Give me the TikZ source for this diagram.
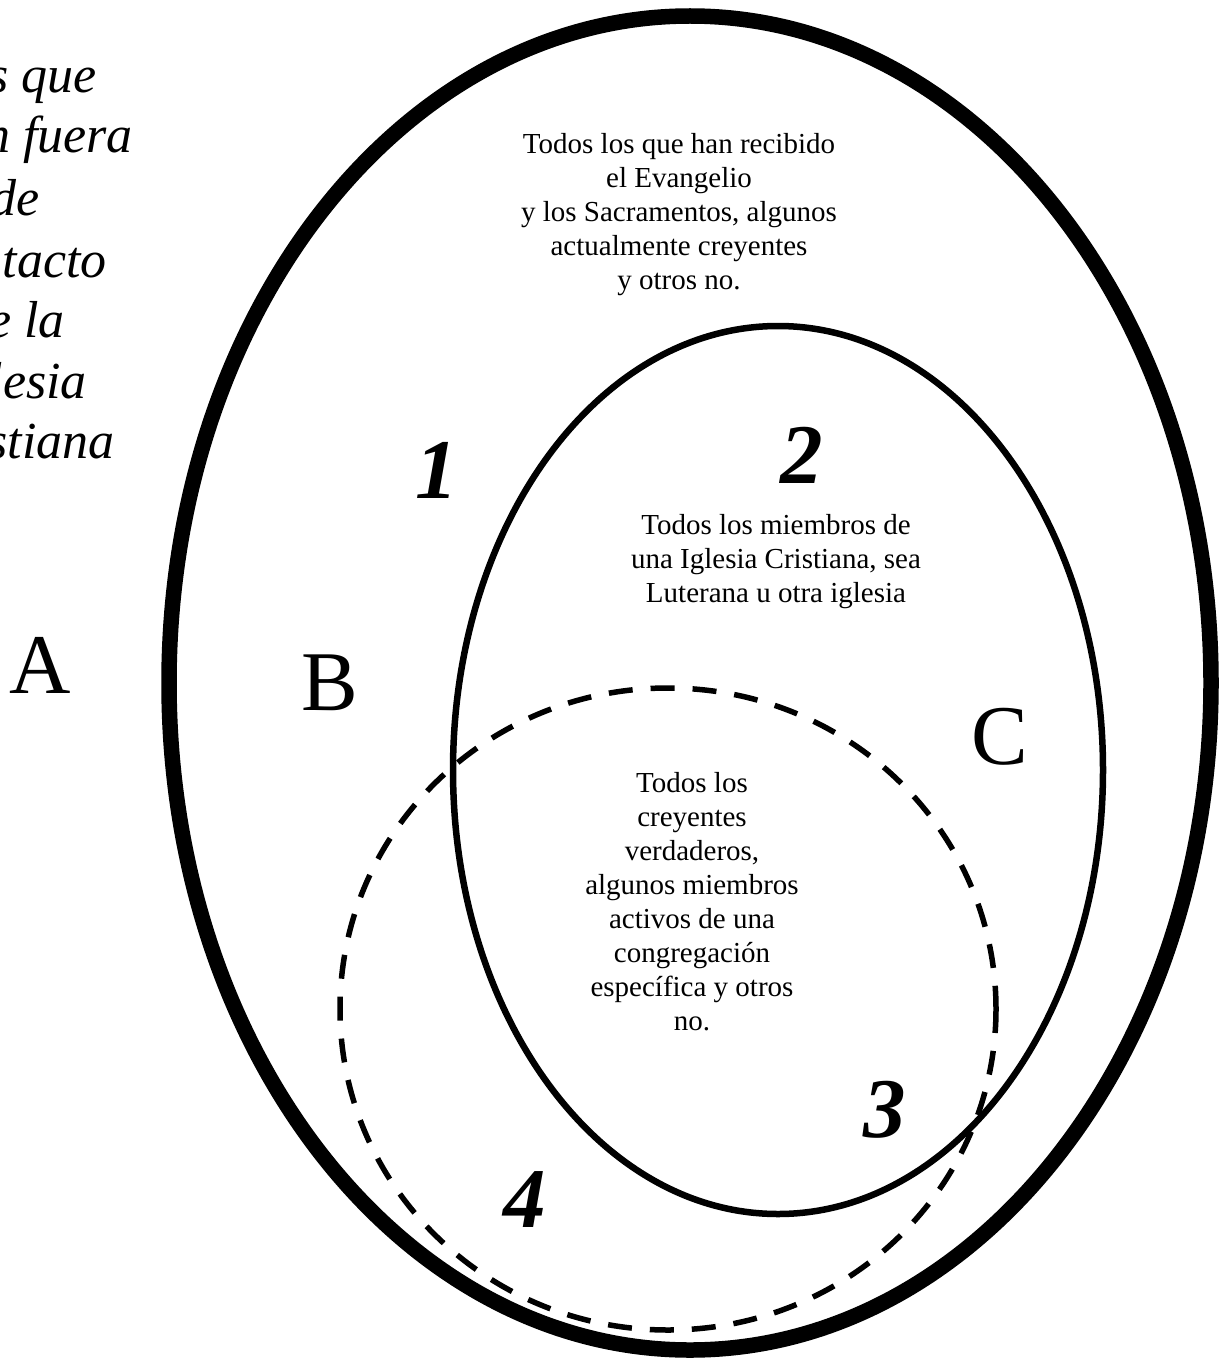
\documentclass[tikz,border=0pt]{standalone}
\usepackage{fontspec}
\setmainfont{Liberation Serif}
\usepackage{tikz}
\usetikzlibrary{positioning}

\begin{document}
\begin{tikzpicture}[x=1pt, y=-1pt, every node/.style={inner sep=0pt},
    blurb/.style={align=center, font=\fontsize{29}{34}\selectfont},
    region/.style={font=\fontsize{85}{85}\selectfont},
    zone/.style={font=\fontsize{85}{85}\selectfont\bfseries\itshape}]
    \useasboundingbox (0,0) rectangle (1220,1367);
    % the three sets
    \draw[line width=15.5pt] (690,683) ellipse (521 and 667);
    \draw[line width=6.5pt] (778,770) ellipse (325 and 444);
    \draw[line width=5.5pt, dash pattern=on 24pt off 18pt] (668,1009) ellipse (328 and 321);
    % caption cut by the left edge
    \foreach \i/\frag/\xe/\yb in {1/s que/97/93, 2/n fuera/133/153, 3/de/40/215,
        4/tacto/107/277, 5/e la/65/337, 6/lesia/87/398, 7/stiana/115/458} {
        \node[anchor=base east, font=\fontsize{52}{52}\selectfont\itshape] (out\i) at (\xe,\yb) {\frag};
    }
    % blurbs, placed by the baseline of their last line
    \node[blurb, anchor=base] (gospel) at (679,289)
        {Todos los que han recibido\\el Evangelio\\y los Sacramentos, algunos\\actualmente creyentes\\y otros no.};
    \node[blurb, anchor=base] (church) at (776,602)
        {Todos los miembros de\\una Iglesia Cristiana, sea\\Luterana u otra iglesia};
    \node[blurb, anchor=base] (believers) at (692,1030)
        {Todos los\\creyentes\\verdaderos,\\algunos miembros\\activos de una\\congregación\\específica y otros\\no.};
    % region letters and numbers
    \node[region] (A) at (40,665) {A};
    \node[region] (B) at (330,683) {B};
    \node[region] (C) at (1000,737) {C};
    \node[zone] (n1) at (437,470) {1};
    \node[zone] (n2) at (802,455) {2};
    \node[zone] (n3) at (885,1110) {3};
    \node[zone] (n4) at (525,1200) {4};
\end{tikzpicture}
\end{document}
